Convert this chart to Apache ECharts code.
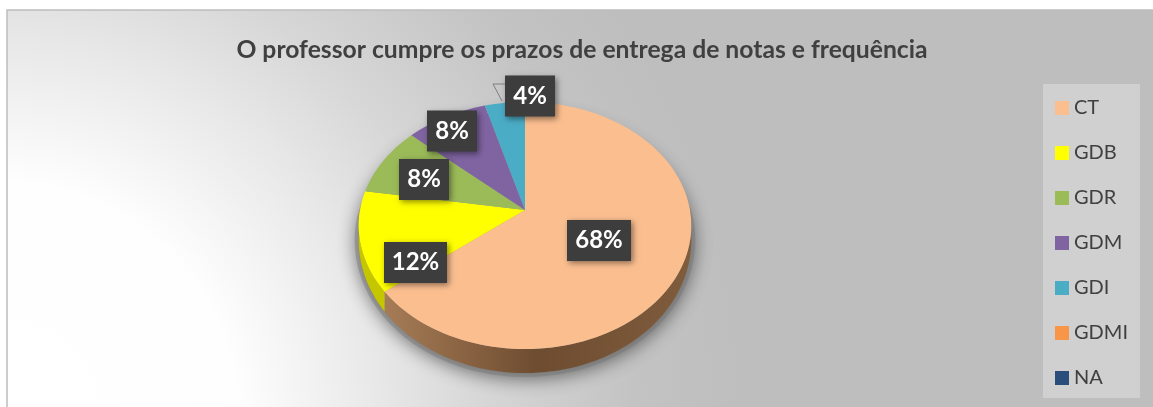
<!DOCTYPE html>
<html>
<head>
<meta charset="utf-8">
<title>Prazos de entrega</title>
<script src="https://cdn.jsdelivr.net/npm/echarts@6/dist/echarts.min.js"></script>
<style>
  html, body { margin: 0; padding: 0; background: #fff; overflow: hidden; }
  #chart { width: 1153px; height: 407px; }
</style>
</head>
<body>
<div id="chart"></div>
<script>
  var titleText = 'O professor cumpre os prazos de entrega de notas e frequência';
  var categories = ['CT', 'GDB', 'GDR', 'GDM', 'GDI', 'GDMI', 'NA'];
  var values = [68, 12, 8, 8, 4, 0, 0];
  var colors = ['#fbbe8f', '#ffff00', '#9bbb59', '#8064a2', '#4bacc6', '#f79646', '#2a4d7c'];

  // label boxes were moved by hand in the original, so they stay as layout: [centre x, centre y, width]
  var labelBoxes = [[599, 240.5, 64], [415.5, 262.5, 63], [424, 179.5, 50], [452, 131, 50], [530, 96, 50]];

  var fontName = 'Lato, "Open Sans", sans-serif';
  var pieX = 525, pieY = 210, pieA = 165, tiltA = 121.6, tiltB = 0.1255, depth = 24;
  var total = values.reduce(function (a, b) { return a + b; }, 0);

  // the 3D view of the original bends the slice angles a little
  function warp(deg) {
    var t = deg * Math.PI / 180;
    return deg - 6 * (1 - Math.cos(t)) + 5 * Math.sin(t);
  }

  function project(deg, rim) {
    var t = deg * Math.PI / 180;
    var d = 1 + tiltB * Math.cos(t);
    // rim is thickest at the front and thins out towards the sides
    var dy = rim ? depth * (0.55 + 0.45 * Math.max(0, -Math.cos(t))) : 0;
    return [pieX + pieA * Math.sin(t) / d, pieY - tiltA * Math.cos(t) / d + dy];
  }

  function arc(from, to, rim) {
    var pts = [];
    var steps = Math.max(1, Math.ceil((to - from) / 2));
    for (var i = 0; i <= steps; i++) {
      pts.push(project(from + (to - from) * i / steps, rim));
    }
    return pts;
  }

  function renderSlice(params, api) {
    var start = api.value(0);
    var value = api.value(1);
    var idx = params.seriesIndex - 1;
    if (!value) return { type: 'group', children: [] };

    var from = warp(start / total * 360);
    var to = warp((start + value) / total * 360);
    var children = [];

    // only the front half of the rim can be seen
    var sideFrom = Math.max(from, 90);
    var sideTo = Math.min(to, 270);
    if (sideTo > sideFrom) {
      var sideFill = idx === 0
        ? new echarts.graphic.LinearGradient(0, 0, 1, 0, [
          { offset: 0, color: '#a67c56' },
          { offset: 0.5, color: '#6e4c30' },
          { offset: 1, color: '#7f5c3c' }
        ])
        : '#c6c600';
      children.push({
        type: 'polygon',
        z2: 2,
        shape: { points: arc(sideFrom, sideTo, false).concat(arc(sideFrom, sideTo, true).reverse()) },
        style: { fill: sideFill }
      });
    }

    children.push({
      type: 'polygon',
      z2: 3,
      shape: { points: [[pieX, pieY]].concat(arc(from, to, false)) },
      style: { fill: colors[idx] }
    });

    var box = labelBoxes[idx];
    children.push({
      type: 'rect',
      z2: 5,
      shape: { x: box[0] - box[2] / 2, y: box[1] - 20.5, width: box[2], height: 41 },
      style: { fill: '#3d3d3d', shadowBlur: 6, shadowOffsetX: 2, shadowOffsetY: 2, shadowColor: 'rgba(0,0,0,0.45)' }
    });
    children.push({
      type: 'text',
      z2: 6,
      style: {
        x: box[0],
        y: box[1],
        text: value + '%',
        fill: '#fff',
        font: 'bold 24px ' + fontName,
        align: 'center',
        verticalAlign: 'middle'
      }
    });
    return { type: 'group', children: children };
  }

  function renderShadow() {
    return {
      type: 'polygon',
      z2: 1,
      shape: { points: arc(0, 360, true) },
      style: { fill: '#999', stroke: 'rgba(120,120,120,0.45)', lineWidth: 8, shadowBlur: 18, shadowOffsetY: 3, shadowColor: 'rgba(0,0,0,0.5)' }
    };
  }

  var series = [{
    name: 'sombra',
    type: 'custom',
    coordinateSystem: 'none',
    silent: true,
    renderItem: renderShadow,
    data: [[0, total]]
  }];
  var running = 0;
  categories.forEach(function (name, i) {
    series.push({
      name: name,
      type: 'custom',
      coordinateSystem: 'none',
      silent: true,
      itemStyle: { color: colors[i] },
      renderItem: renderSlice,
      data: [[running, values[i]]]
    });
    running += values[i];
  });

  var chart = echarts.init(document.getElementById('chart'), null, { renderer: 'canvas' });
  chart.setOption({
    animation: false,
    color: colors,
    graphic: [{
      type: 'rect',
      silent: true,
      z: -10,
      shape: { x: 7, y: 10, width: 1160, height: 410 },
      style: {
        stroke: '#bdbdbd',
        lineWidth: 1.5,
        fill: new echarts.graphic.RadialGradient(0, 420, 740, [
          { offset: 0, color: '#ffffff' },
          { offset: 0.32, color: '#fefefe' },
          { offset: 0.52, color: '#e7e7e7' },
          { offset: 0.65, color: '#d7d7d7' },
          { offset: 0.86, color: '#c3c3c3' },
          { offset: 1, color: '#bebebe' }
        ], true)
      }
    }, {
      type: 'polyline',
      silent: true,
      z: 4,
      shape: { points: [[505, 84], [493, 84], [502, 101]] },
      style: { stroke: '#7f7f7f', lineWidth: 1, fill: 'none' }
    }],
    title: {
      text: titleText,
      left: 577,
      top: 33,
      textAlign: 'center',
      textStyle: { color: '#404040', fontFamily: fontName, fontWeight: 'bold', fontSize: 24.7 }
    },
    legend: {
      orient: 'vertical',
      left: 1043,
      top: 84,
      width: 99,
      height: 315,
      padding: [14, 12, 10, 12],
      itemWidth: 14,
      itemHeight: 14,
      itemGap: 25,
      icon: 'rect',
      selectedMode: false,
      backgroundColor: '#d0d0d0',
      data: categories,
      textStyle: { color: '#404040', fontFamily: fontName, fontSize: 20 }
    },
    series: series
  });
</script>
</body>
</html>
